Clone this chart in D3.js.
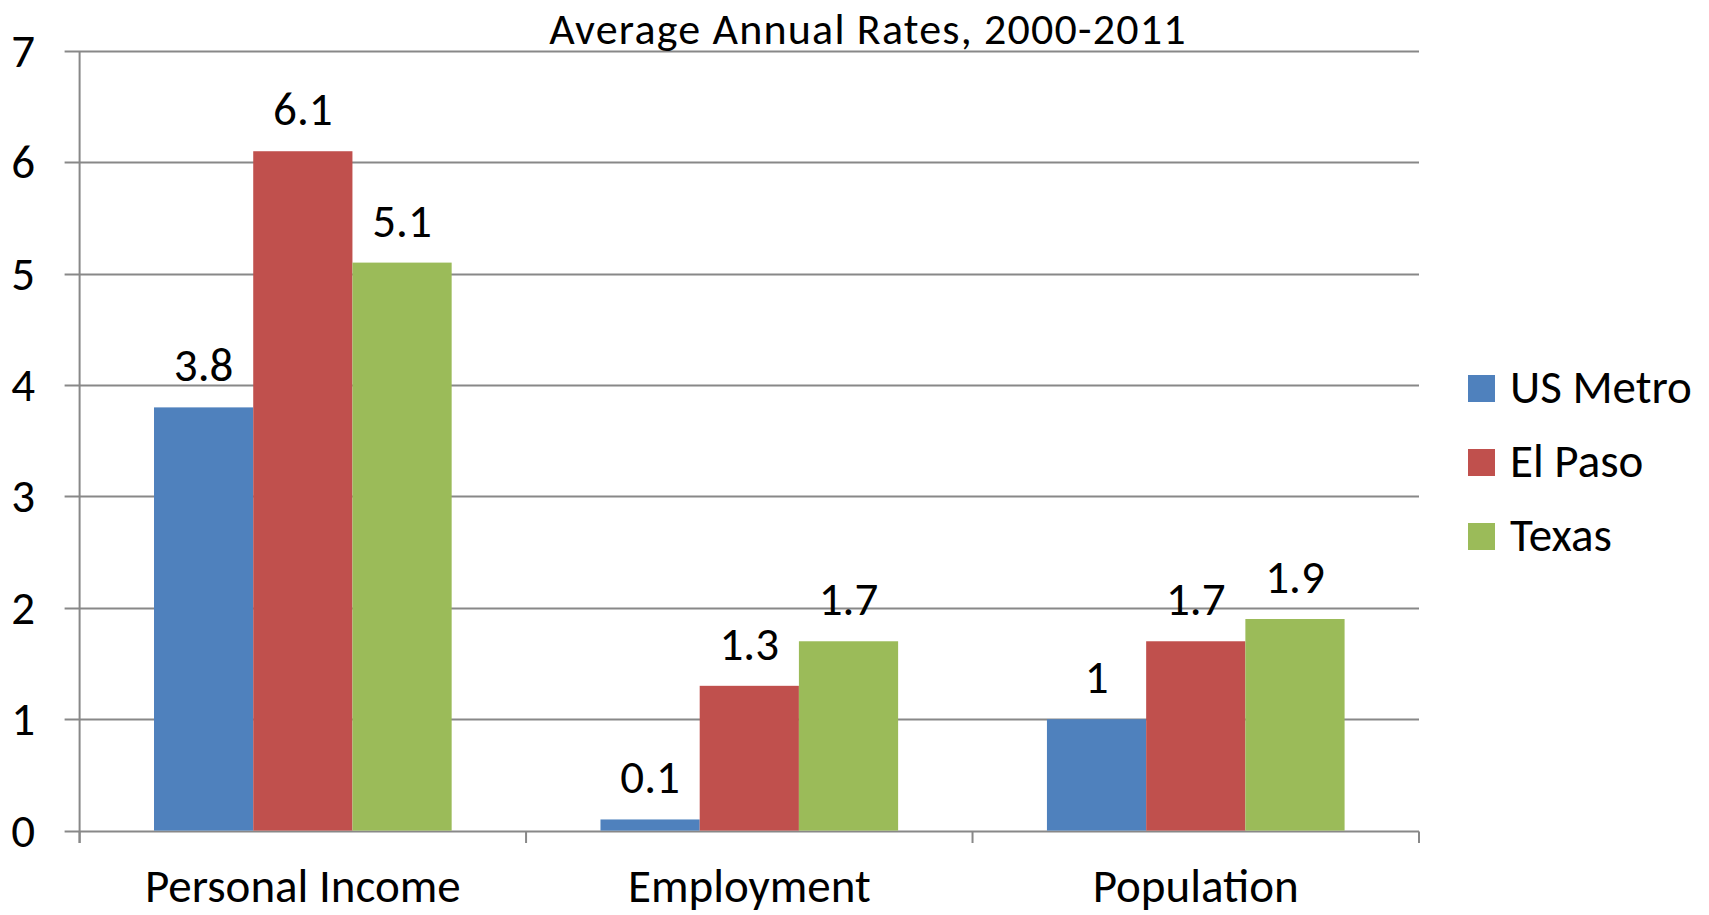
<!DOCTYPE html>
<html>
<head>
<meta charset="utf-8">
<script src="https://cdn.jsdelivr.net/npm/d3@7/dist/d3.min.js"></script>
<style>
  html, body { margin: 0; padding: 0; background: #fff; }
  svg { display: block; }
  text { font-family: Carlito, Lato, "Open Sans", sans-serif; fill: #000; }
</style>
</head>
<body>
<svg id="chart" width="1709" height="915"></svg>
<script>
// Growth rates by measure and area
const categories = ["Personal Income", "Employment", "Population"];
const seriesNames = ["US Metro", "El Paso", "Texas"];
const usMetro = [3.8, 0.1, 1];
const elPaso = [6.1, 1.3, 1.7];
const texas = [5.1, 1.7, 1.9];
const seriesValues = [usMetro, elPaso, texas];
const yTicks = [0, 1, 2, 3, 4, 5, 6, 7];
const colors = ["#4F81BD", "#C0504D", "#9BBB59"];
const title = "Average Annual Rates, 2000-2011";

const svg = d3.select("#chart");
const plot = { left: 79.6, right: 1419, top: 51, bottom: 830.6 };
const gridColor = "#888888";
const labelSize = "47px";

const x0 = d3.scaleBand().domain(categories).range([plot.left, plot.right]).padding(0);
const x1 = d3.scaleBand().domain(seriesNames).range([0, x0.bandwidth()])
  .paddingInner(0).paddingOuter(0.75);
const y = d3.scaleLinear().domain([0, 7]).range([plot.bottom, plot.top]);

// Horizontal gridlines with short outward ticks on the left
svg.append("g").selectAll("line").data(yTicks).join("line")
  .attr("x1", plot.left - 15).attr("x2", plot.right)
  .attr("y1", d => Math.round(y(d)) + 0.5).attr("y2", d => Math.round(y(d)) + 0.5)
  .attr("stroke", gridColor).attr("stroke-width", 2);

// Value axis tick labels
svg.append("g").selectAll("text").data(yTicks).join("text")
  .attr("x", 35).attr("y", d => y(d) + 16)
  .attr("text-anchor", "end")
  .style("font-size", labelSize)
  .text(d => d);

// Bars
const groups = svg.append("g").selectAll("g").data(categories).join("g")
  .attr("transform", c => `translate(${x0(c)},0)`);

groups.selectAll("rect")
  .data((c, i) => seriesNames.map((s, j) => ({ s, v: seriesValues[j][i], j })))
  .join("rect")
  .attr("x", d => x1(d.s)).attr("width", x1.bandwidth())
  .attr("y", d => y(d.v)).attr("height", d => y(0) - y(d.v))
  .attr("fill", d => colors[d.j]);

// Data labels
groups.selectAll("text.val")
  .data((c, i) => seriesNames.map((s, j) => ({ s, v: seriesValues[j][i] })))
  .join("text").attr("class", "val")
  .attr("x", d => x1(d.s) + x1.bandwidth() / 2)
  .attr("y", d => y(d.v) - 26)
  .attr("text-anchor", "middle")
  .style("font-size", labelSize)
  .text(d => d.v);

// Category axis line and tick marks
const axisY = Math.round(y(0)) + 0.5;
svg.append("line")
  .attr("x1", plot.left).attr("x2", plot.left)
  .attr("y1", plot.top).attr("y2", 843)
  .attr("stroke", gridColor).attr("stroke-width", 2);
const bounds = categories.map(c => x0(c)).concat([plot.right]);
svg.append("g").selectAll("line").data(bounds).join("line")
  .attr("x1", d => d).attr("x2", d => d)
  .attr("y1", axisY).attr("y2", 843)
  .attr("stroke", gridColor).attr("stroke-width", 2);

// Category labels
svg.append("g").selectAll("text").data(categories).join("text")
  .attr("x", c => x0(c) + x0.bandwidth() / 2)
  .attr("y", 902)
  .attr("text-anchor", "middle")
  .style("font-size", labelSize)
  .text(c => c);

// Title
svg.append("text")
  .attr("x", 868).attr("y", 44)
  .attr("text-anchor", "middle")
  .style("font-size", "44px")
  .style("letter-spacing", "1.2px")
  .text(title);

// Legend
const legend = svg.append("g").selectAll("g").data(seriesNames).join("g")
  .attr("transform", (d, i) => `translate(1468,${375 + i * 74})`);
legend.append("rect").attr("width", 27).attr("height", 27)
  .attr("fill", (d, i) => colors[i]);
legend.append("text").attr("x", 42).attr("y", 28)
  .style("font-size", labelSize)
  .text(d => d);
</script>
</body>
</html>
